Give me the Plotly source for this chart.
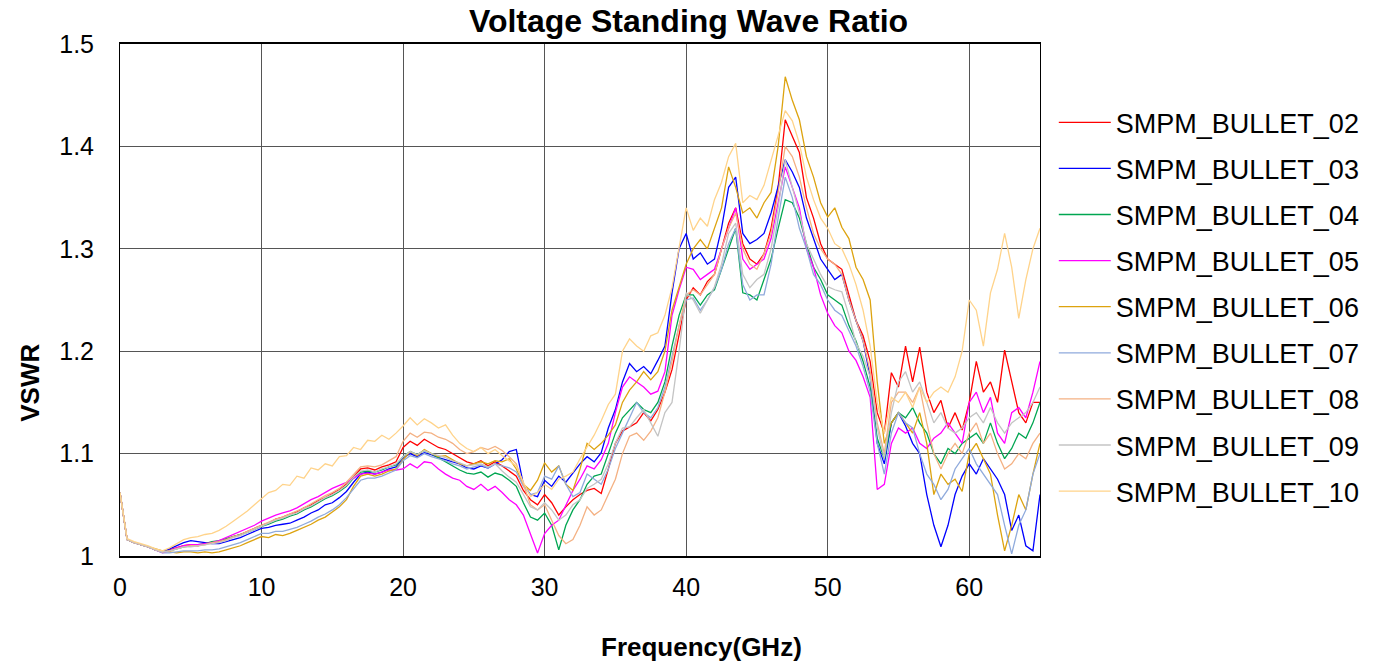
import plotly.graph_objects as go

freq = [i * 0.5 for i in range(131)]

s02 = [1.062,1.016,1.013,1.011,1.009,1.006,1.004,1.006,1.008,1.010,1.011,1.010,1.012,1.013,1.014,1.016,1.019,1.021,1.024,1.027,
       1.030,1.032,1.036,1.038,1.041,1.043,1.047,1.050,1.054,1.057,1.061,1.065,1.070,1.078,1.085,1.086,1.084,1.087,1.089,1.092,
       1.106,1.112,1.108,1.114,1.110,1.106,1.104,1.100,1.096,1.092,1.090,1.093,1.088,1.092,1.088,1.083,1.078,1.064,1.055,1.050,
       1.060,1.052,1.040,1.048,1.055,1.060,1.064,1.066,1.061,1.085,1.110,1.122,1.126,1.130,1.140,1.132,1.143,1.160,1.182,1.215,
       1.250,1.262,1.255,1.268,1.275,1.300,1.325,1.340,1.305,1.290,1.285,1.295,1.320,1.360,1.426,1.410,1.394,1.350,1.330,1.305,
       1.290,1.285,1.280,1.255,1.230,1.215,1.190,1.140,1.120,1.179,1.165,1.205,1.170,1.204,1.160,1.140,1.152,1.125,1.140,1.123,
       1.150,1.190,1.160,1.170,1.150,1.201,1.170,1.140,1.130,1.150,1.150]

s03 = [1.062,1.016,1.013,1.011,1.009,1.006,1.004,1.007,1.010,1.013,1.015,1.014,1.013,1.012,1.012,1.014,1.016,1.018,1.021,1.024,
       1.027,1.028,1.030,1.031,1.032,1.035,1.038,1.042,1.045,1.050,1.052,1.057,1.063,1.072,1.080,1.082,1.080,1.082,1.085,1.087,
       1.096,1.100,1.097,1.101,1.099,1.096,1.094,1.092,1.090,1.086,1.085,1.088,1.086,1.090,1.094,1.102,1.104,1.070,1.060,1.058,
       1.074,1.068,1.078,1.072,1.081,1.090,1.097,1.092,1.101,1.125,1.143,1.170,1.188,1.180,1.185,1.178,1.191,1.205,1.257,1.300,
       1.315,1.290,1.296,1.285,1.290,1.320,1.360,1.370,1.315,1.305,1.309,1.315,1.335,1.360,1.387,1.375,1.360,1.330,1.309,1.290,
       1.280,1.270,1.275,1.250,1.230,1.210,1.175,1.110,1.090,1.130,1.140,1.127,1.110,1.100,1.060,1.030,1.009,1.030,1.060,1.078,
       1.090,1.080,1.095,1.085,1.075,1.060,1.025,1.040,1.010,1.005,1.060]

s04 = [1.062,1.016,1.013,1.011,1.009,1.006,1.004,1.005,1.007,1.009,1.010,1.011,1.012,1.014,1.015,1.017,1.019,1.021,1.023,1.026,
       1.029,1.031,1.034,1.036,1.039,1.041,1.045,1.048,1.052,1.056,1.059,1.063,1.068,1.076,1.082,1.083,1.082,1.084,1.087,1.089,
       1.097,1.102,1.099,1.103,1.100,1.096,1.092,1.088,1.084,1.081,1.080,1.082,1.077,1.081,1.079,1.074,1.068,1.052,1.038,1.035,
       1.042,1.030,1.006,1.030,1.045,1.055,1.070,1.078,1.080,1.100,1.120,1.135,1.143,1.150,1.143,1.140,1.150,1.170,1.205,1.235,
       1.255,1.255,1.245,1.255,1.260,1.280,1.300,1.320,1.257,1.255,1.250,1.270,1.290,1.320,1.348,1.345,1.330,1.305,1.282,1.270,
       1.255,1.250,1.245,1.225,1.210,1.190,1.165,1.115,1.095,1.130,1.140,1.135,1.145,1.130,1.120,1.100,1.090,1.105,1.100,1.110,
       1.115,1.120,1.110,1.130,1.110,1.095,1.105,1.120,1.115,1.130,1.150]

s05 = [1.062,1.016,1.013,1.011,1.009,1.006,1.003,1.005,1.008,1.010,1.011,1.011,1.012,1.013,1.015,1.018,1.021,1.024,1.027,1.030,
       1.034,1.037,1.040,1.042,1.044,1.047,1.051,1.055,1.058,1.062,1.066,1.069,1.072,1.076,1.080,1.081,1.080,1.082,1.084,1.084,
       1.085,1.090,1.086,1.092,1.091,1.085,1.080,1.076,1.074,1.068,1.065,1.070,1.064,1.068,1.062,1.055,1.050,1.040,1.022,1.003,
       1.022,1.030,1.035,1.050,1.064,1.075,1.088,1.085,1.094,1.110,1.140,1.165,1.175,1.170,1.165,1.158,1.161,1.180,1.235,1.260,
       1.282,1.280,1.270,1.275,1.280,1.300,1.320,1.340,1.290,1.280,1.285,1.290,1.310,1.345,1.380,1.360,1.340,1.300,1.282,1.255,
       1.237,1.225,1.218,1.200,1.191,1.175,1.155,1.065,1.070,1.110,1.125,1.120,1.125,1.110,1.105,1.115,1.120,1.130,1.120,1.110,
       1.150,1.160,1.140,1.155,1.120,1.110,1.140,1.145,1.135,1.160,1.190]

s06 = [1.062,1.016,1.013,1.011,1.009,1.007,1.005,1.004,1.003,1.004,1.004,1.003,1.004,1.003,1.004,1.006,1.008,1.010,1.013,1.016,
       1.019,1.018,1.021,1.020,1.022,1.025,1.028,1.031,1.035,1.038,1.043,1.048,1.055,1.068,1.078,1.080,1.078,1.080,1.083,1.085,
       1.094,1.102,1.098,1.104,1.100,1.097,1.098,1.094,1.090,1.088,1.090,1.092,1.090,1.093,1.092,1.095,1.085,1.070,1.064,1.074,
       1.091,1.082,1.088,1.070,1.064,1.085,1.110,1.104,1.110,1.118,1.128,1.150,1.162,1.170,1.180,1.172,1.180,1.200,1.240,1.262,
       1.285,1.300,1.309,1.300,1.320,1.340,1.380,1.360,1.335,1.340,1.330,1.345,1.355,1.400,1.468,1.445,1.426,1.390,1.370,1.345,
       1.331,1.340,1.321,1.310,1.282,1.270,1.250,1.170,1.110,1.130,1.140,1.130,1.120,1.140,1.110,1.060,1.080,1.070,1.075,1.063,
       1.100,1.110,1.095,1.080,1.040,1.005,1.030,1.060,1.045,1.080,1.110]

s07 = [1.062,1.016,1.013,1.011,1.009,1.006,1.003,1.003,1.004,1.005,1.005,1.005,1.006,1.006,1.007,1.009,1.011,1.013,1.016,1.019,
       1.022,1.022,1.024,1.024,1.026,1.028,1.031,1.034,1.038,1.041,1.045,1.050,1.057,1.066,1.074,1.076,1.076,1.078,1.081,1.084,
       1.093,1.098,1.096,1.100,1.097,1.095,1.093,1.090,1.088,1.085,1.087,1.089,1.086,1.090,1.088,1.086,1.082,1.068,1.060,1.062,
       1.078,1.075,1.088,1.070,1.058,1.062,1.080,1.075,1.070,1.085,1.105,1.120,1.135,1.150,1.140,1.135,1.145,1.165,1.195,1.225,
       1.250,1.252,1.240,1.250,1.262,1.280,1.305,1.320,1.265,1.250,1.255,1.255,1.285,1.330,1.370,1.350,1.320,1.300,1.275,1.265,
       1.250,1.240,1.235,1.220,1.205,1.185,1.160,1.110,1.080,1.120,1.140,1.130,1.125,1.100,1.080,1.070,1.055,1.065,1.085,1.095,
       1.105,1.090,1.080,1.070,1.060,1.030,1.002,1.030,1.045,1.080,1.100]

s08 = [1.062,1.016,1.013,1.011,1.009,1.006,1.004,1.005,1.007,1.009,1.010,1.010,1.011,1.013,1.014,1.016,1.019,1.021,1.024,1.027,
       1.030,1.033,1.036,1.038,1.041,1.044,1.047,1.051,1.055,1.059,1.062,1.066,1.072,1.080,1.087,1.088,1.087,1.089,1.093,1.097,
       1.112,1.120,1.116,1.121,1.120,1.116,1.114,1.110,1.104,1.100,1.102,1.106,1.104,1.107,1.103,1.097,1.090,1.070,1.050,1.045,
       1.050,1.035,1.020,1.012,1.016,1.030,1.048,1.040,1.045,1.060,1.075,1.100,1.117,1.120,1.113,1.122,1.135,1.160,1.190,1.225,
       1.255,1.260,1.255,1.265,1.275,1.300,1.320,1.335,1.300,1.285,1.280,1.295,1.315,1.355,1.400,1.390,1.370,1.340,1.315,1.300,
       1.290,1.285,1.275,1.250,1.230,1.210,1.180,1.130,1.100,1.150,1.160,1.160,1.150,1.165,1.130,1.100,1.085,1.100,1.110,1.100,
       1.120,1.130,1.110,1.120,1.100,1.085,1.090,1.100,1.095,1.110,1.120]

s09 = [1.062,1.016,1.013,1.011,1.009,1.006,1.004,1.005,1.007,1.009,1.009,1.010,1.011,1.012,1.013,1.015,1.018,1.020,1.023,1.026,
       1.029,1.032,1.035,1.037,1.040,1.042,1.046,1.049,1.053,1.057,1.060,1.064,1.069,1.077,1.083,1.084,1.082,1.085,1.087,1.090,
       1.097,1.102,1.099,1.103,1.100,1.098,1.096,1.093,1.091,1.088,1.089,1.090,1.087,1.090,1.083,1.077,1.072,1.060,1.048,1.045,
       1.052,1.045,1.035,1.040,1.050,1.055,1.066,1.070,1.075,1.090,1.110,1.125,1.126,1.135,1.143,1.130,1.117,1.140,1.150,1.200,
       1.257,1.250,1.237,1.250,1.263,1.285,1.315,1.325,1.275,1.262,1.270,1.275,1.300,1.340,1.387,1.360,1.335,1.305,1.290,1.275,
       1.263,1.260,1.258,1.235,1.208,1.195,1.175,1.125,1.095,1.140,1.170,1.180,1.160,1.170,1.150,1.130,1.140,1.125,1.120,1.125,
       1.135,1.140,1.130,1.145,1.130,1.120,1.130,1.135,1.140,1.150,1.165]

s10 = [1.062,1.017,1.014,1.012,1.010,1.007,1.005,1.008,1.012,1.016,1.018,1.019,1.021,1.022,1.025,1.029,1.034,1.039,1.044,1.050,
       1.056,1.062,1.064,1.070,1.069,1.078,1.076,1.086,1.084,1.090,1.088,1.097,1.098,1.106,1.104,1.113,1.112,1.118,1.114,1.120,
       1.127,1.135,1.128,1.134,1.130,1.125,1.128,1.118,1.110,1.105,1.102,1.106,1.100,1.104,1.098,1.093,1.088,1.072,1.058,1.062,
       1.070,1.065,1.075,1.078,1.082,1.095,1.106,1.118,1.132,1.148,1.158,1.200,1.212,1.205,1.200,1.215,1.218,1.235,1.262,1.300,
       1.340,1.318,1.330,1.322,1.348,1.365,1.390,1.403,1.345,1.352,1.348,1.362,1.387,1.410,1.435,1.425,1.403,1.370,1.348,1.330,
       1.320,1.305,1.300,1.285,1.265,1.240,1.205,1.150,1.120,1.155,1.150,1.160,1.145,1.165,1.150,1.160,1.165,1.160,1.175,1.200,
       1.250,1.240,1.205,1.257,1.280,1.315,1.282,1.232,1.270,1.300,1.320]

names = ["SMPM_BULLET_02", "SMPM_BULLET_03", "SMPM_BULLET_04", "SMPM_BULLET_05", "SMPM_BULLET_06",
         "SMPM_BULLET_07", "SMPM_BULLET_08", "SMPM_BULLET_09", "SMPM_BULLET_10"]
series = [s02, s03, s04, s05, s06, s07, s08, s09, s10]
colors = ["#FF0000", "#0000FF", "#00A651", "#FF00FF", "#DDA30F", "#8FAADC", "#F4B183", "#C4C4C4", "#FFD38A"]

FONT = "Liberation Sans, Arial, sans-serif"

fig = go.Figure()
for nm, ys, c in zip(names, series, colors):
    fig.add_trace(go.Scatter(x=freq, y=ys, mode="lines", name=nm, legendgroup=nm,
                             line=dict(color=c, width=1.3)))

fig.update_layout(
    width=1377, height=663,
    margin=dict(l=120, r=337, t=44, b=107),
    paper_bgcolor="white", plot_bgcolor="white",
    font=dict(family=FONT, color="black", size=25),
    title=dict(text="<b>Voltage Standing Wave Ratio</b>", x=0.5, xref="container", xanchor="center",
               y=0.968, yref="container", yanchor="middle",
               font=dict(size=32, family=FONT, color="black")),
    showlegend=True,
    legend=dict(x=1.015, y=0.894, xanchor="left", yanchor="top", font=dict(size=27, family=FONT),
                tracegroupgap=8, itemwidth=52, bgcolor="rgba(0,0,0,0)"),
    xaxis=dict(range=[0, 65], tickvals=[0, 10, 20, 30, 40, 50, 60], showgrid=True,
               gridcolor="#555555", gridwidth=1, showline=True, linecolor="black", linewidth=2,
               mirror=True, ticks="", zeroline=False, tickfont=dict(size=25), ticklabelstandoff=8),
    yaxis=dict(range=[1.0, 1.5], tickvals=[1.0, 1.1, 1.2, 1.3, 1.4, 1.5],
               ticktext=["1", "1.1", "1.2", "1.3", "1.4", "1.5"], showgrid=True,
               gridcolor="#555555", gridwidth=1, showline=True, linecolor="black", linewidth=1,
               mirror=True, ticks="", zeroline=False, tickfont=dict(size=25), ticklabelstandoff=20),
    annotations=[
        dict(text="<b>Frequency(GHz)</b>", x=(701 - 120) / 920, y=-0.178, xref="paper", yref="paper",
             xanchor="center", yanchor="middle", showarrow=False, font=dict(size=26, family=FONT)),
        dict(text="<b>VSWR</b>", x=-0.098, y=0.338, xref="paper", yref="paper", textangle=-90,
             xanchor="center", yanchor="middle", showarrow=False, font=dict(size=26, family=FONT)),
    ],
)

fig.write_html("out.html", config={"displayModeBar": False},
               post_script="document.body.style.margin='0';document.body.style.overflow='hidden';")
